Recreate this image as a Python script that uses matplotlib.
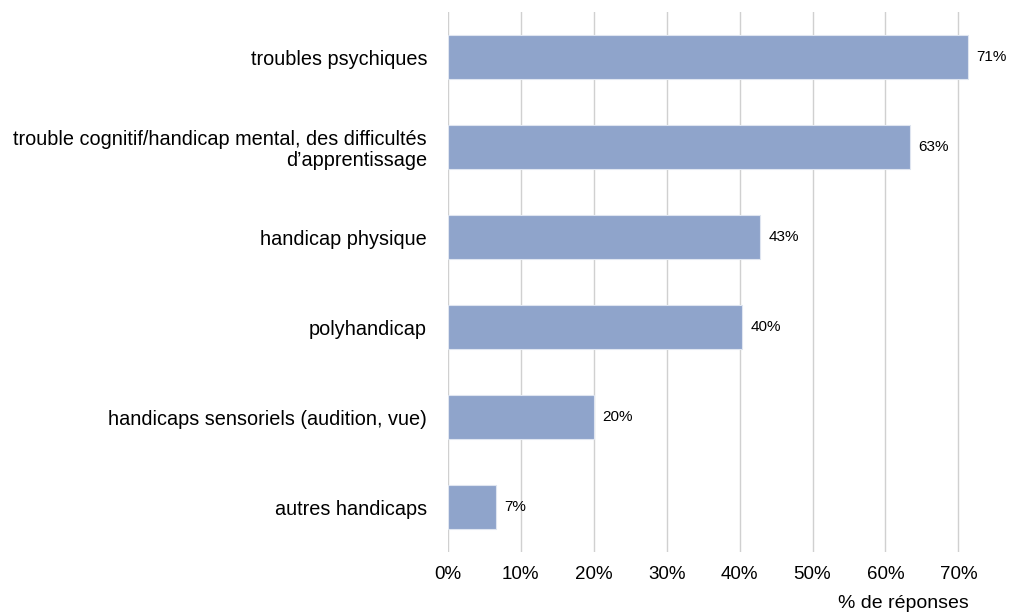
import matplotlib

matplotlib.use('agg')

import matplotlib.pyplot as plt

categories = ['troubles psychiques',
              'trouble cognitif/handicap mental, des difficultés\nd’apprentissage',
              'handicap physique',
              'polyhandicap',
              'handicaps sensoriels (audition, vue)',
              'autres handicaps']
values = [71.3, 63.4, 42.8, 40.4, 20.0, 6.6]
labels = ['71%', '63%', '43%', '40%', '20%', '7%']
ticks = [0, 10, 20, 30, 40, 50, 60, 70]

plt.rcParams['font.family'] = ['Liberation Sans', 'DejaVu Sans']

fig = plt.figure(figsize=(10.11, 6.14), dpi=100)
ax = fig.add_axes([0.443, 0.101, 0.541, 0.879])

pos = list(range(len(categories)))
ax.barh(pos, values, height=0.49, color='#8fa4cb', edgecolor='#dfe5f0',
        linewidth=0.8, zorder=2)
for p, v, t in zip(pos, values, labels):
    ax.annotate(t, (v, p), xytext=(6, 0), textcoords='offset points',
                va='center', ha='left', fontsize=11, color='#000000')

ax.set_ylim(len(categories) - 0.5, -0.5)
ax.set_xlim(0, 75)
ax.set_yticks(pos)
ax.set_yticklabels(categories, fontsize=14.3, ha='right')
ax.set_xticks(ticks)
ax.set_xticklabels(['%d%%' % t for t in ticks], fontsize=13.5)
ax.tick_params(axis='both', length=0)
ax.tick_params(axis='x', pad=10)
ax.tick_params(axis='y', pad=15)
for lbl in ax.get_yticklabels():
    lbl.set_multialignment('right')
    lbl.set_linespacing(1.15)

ax.grid(axis='x', color='#d0d0d0', linewidth=1, zorder=0)
ax.set_axisbelow(True)
for s in ax.spines.values():
    s.set_visible(False)

fig.text(0.958, 0.003, '% de réponses', ha='right', va='bottom', fontsize=14)

plt.savefig('out.png')
